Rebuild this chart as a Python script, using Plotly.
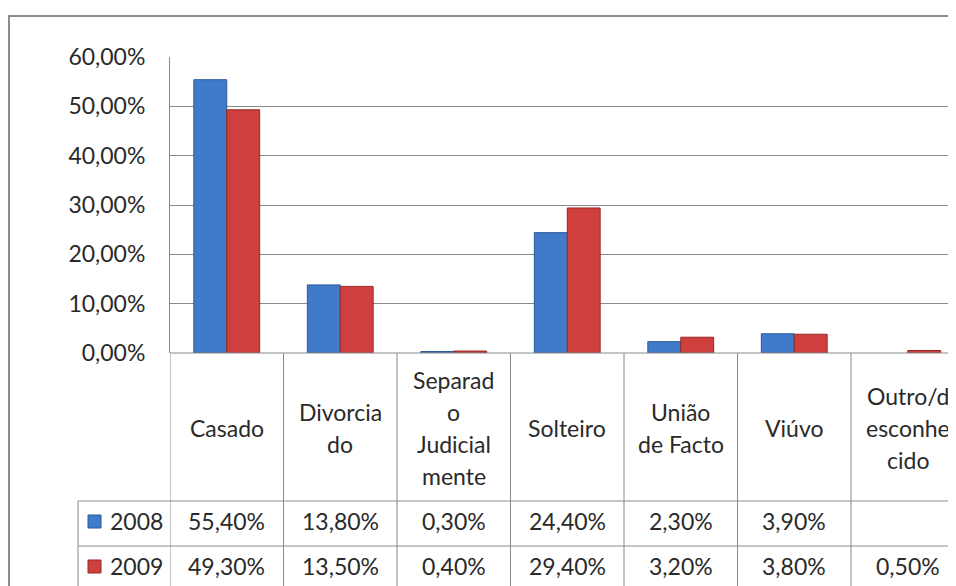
import plotly.graph_objects as go

# ---- data ----
categories = ["Casado", "Divorciado", "Separado Judicialmente", "Solteiro",
              "União de Facto", "Viúvo", "Outro/desconhecido"]
cat_label_lines = [["Casado"], ["Divorcia", "do"], ["Separad", "o", "Judicial", "mente"],
                   ["Solteiro"], ["União", "de Facto"], ["Viúvo"], ["Outro/d", "esconhe", "cido"]]
series_names = ["2008", "2009"]
values_2008 = [0.554, 0.138, 0.003, 0.244, 0.023, 0.039, None]
values_2009 = [0.493, 0.135, 0.004, 0.294, 0.032, 0.038, 0.005]
y_ticks = [0, 0.1, 0.2, 0.3, 0.4, 0.5, 0.6]

W, H = 956, 586
OFF = 8  # page offset of the figure inside the window
FONT = "Lato"
FS = 23
TXT = "#2a2a2a"
GRID = "#8a8a8a"
BLUE, BLUE_D = "#3f7bc8", "#2b5a99"
RED, RED_D = "#cf3f3d", "#942a28"


def px(x):
    return (x - OFF) / W


def py(y):
    return 1 - (y - OFF) / H


x_idx = list(range(len(categories)))
plot_left = 170
cat_w = 113.5
x_max = -0.5 + (W + OFF - plot_left) / cat_w

fig = go.Figure()
fig.add_bar(x=x_idx, y=values_2008, name=series_names[0],
            marker=dict(color=BLUE, line=dict(color=BLUE_D, width=1)))
fig.add_bar(x=x_idx, y=values_2009, name=series_names[1],
            marker=dict(color=RED, line=dict(color=RED_D, width=1)))

fig.update_layout(
    width=W, height=H, autosize=False,
    margin=dict(l=0, r=0, t=0, b=0, pad=0),
    paper_bgcolor="white", plot_bgcolor="white",
    showlegend=False, barmode="group", bargap=0.42, bargroupgap=0,
    separators=",.",
    font=dict(family=FONT, size=FS, color=TXT),
)
fig.update_xaxes(domain=[px(plot_left), 1], range=[-0.5, x_max], automargin=False,
                 showticklabels=False, showgrid=False, zeroline=False,
                 showline=False, fixedrange=True)
fig.update_yaxes(domain=[py(353), py(57)], range=[0, 0.6], automargin=False,
                 tickvals=y_ticks, tickformat=".2%",
                 showgrid=True, gridcolor=GRID, gridwidth=1,
                 zeroline=False, showline=True, linecolor=GRID, linewidth=1,
                 ticks="", ticklabelstandoff=19,
                 tickfont=dict(family=FONT, size=FS, color=TXT))

shapes = []
line = dict(color=GRID, width=1)
# baseline
shapes.append(dict(type="line", xref="paper", yref="paper",
                   x0=px(plot_left), x1=1, y0=py(353), y1=py(353), line=line))
# table horizontal lines
for yy in (501, 546):
    shapes.append(dict(type="line", xref="paper", yref="paper",
                       x0=px(78), x1=1, y0=py(yy), y1=py(yy), line=line))
# table vertical lines at category boundaries
for i in range(len(categories)):
    shapes.append(dict(type="line", xref="x", yref="paper",
                       x0=i - 0.5, x1=i - 0.5, y0=py(353), y1=0, line=line))
# legend column left edge
shapes.append(dict(type="line", xref="paper", yref="paper",
                   x0=px(78), x1=px(78), y0=py(501), y1=0, line=line))
# outer chart border
border = dict(color="#8c8c8c", width=2)
shapes.append(dict(type="line", xref="paper", yref="paper",
                   x0=px(9), x1=px(9), y0=0, y1=py(16), line=border))
shapes.append(dict(type="line", xref="paper", yref="paper",
                   x0=px(8), x1=1, y0=py(16), y1=py(16), line=border))
# legend keys
key_cols = [(BLUE, BLUE_D), (RED, RED_D)]
row_y = (521, 566)
for (fc, lc), yc in zip(key_cols, row_y):
    shapes.append(dict(type="rect", xref="paper", yref="paper",
                       x0=px(88), x1=px(101), y0=py(yc + 7), y1=py(yc - 6),
                       fillcolor=fc, line=dict(color=lc, width=1)))

annotations = []
line_gap = 32
header_center = 428
for i, lines in enumerate(cat_label_lines):
    n = len(lines)
    for k, t in enumerate(lines):
        yc = header_center + (k - (n - 1) / 2) * line_gap
        annotations.append(dict(x=i, y=py(yc), xref="x", yref="paper",
                                text=t, showarrow=False, xanchor="center",
                                yanchor="middle", font=dict(size=FS)))


def fmt(v):
    return "" if v is None else f"{v * 100:.2f}%".replace(".", ",")


for name, vals, yc in zip(series_names, (values_2008, values_2009), row_y):
    annotations.append(dict(x=px(108), y=py(yc), xref="paper", yref="paper",
                            text=name, showarrow=False, xanchor="left",
                            yanchor="middle", font=dict(size=FS)))
    for i, v in enumerate(vals):
        annotations.append(dict(x=i, y=py(yc), xref="x", yref="paper",
                                text=fmt(v), showarrow=False, xanchor="center",
                                yanchor="middle", font=dict(size=FS)))

fig.update_layout(shapes=shapes, annotations=annotations)
fig.write_html("out.html")
